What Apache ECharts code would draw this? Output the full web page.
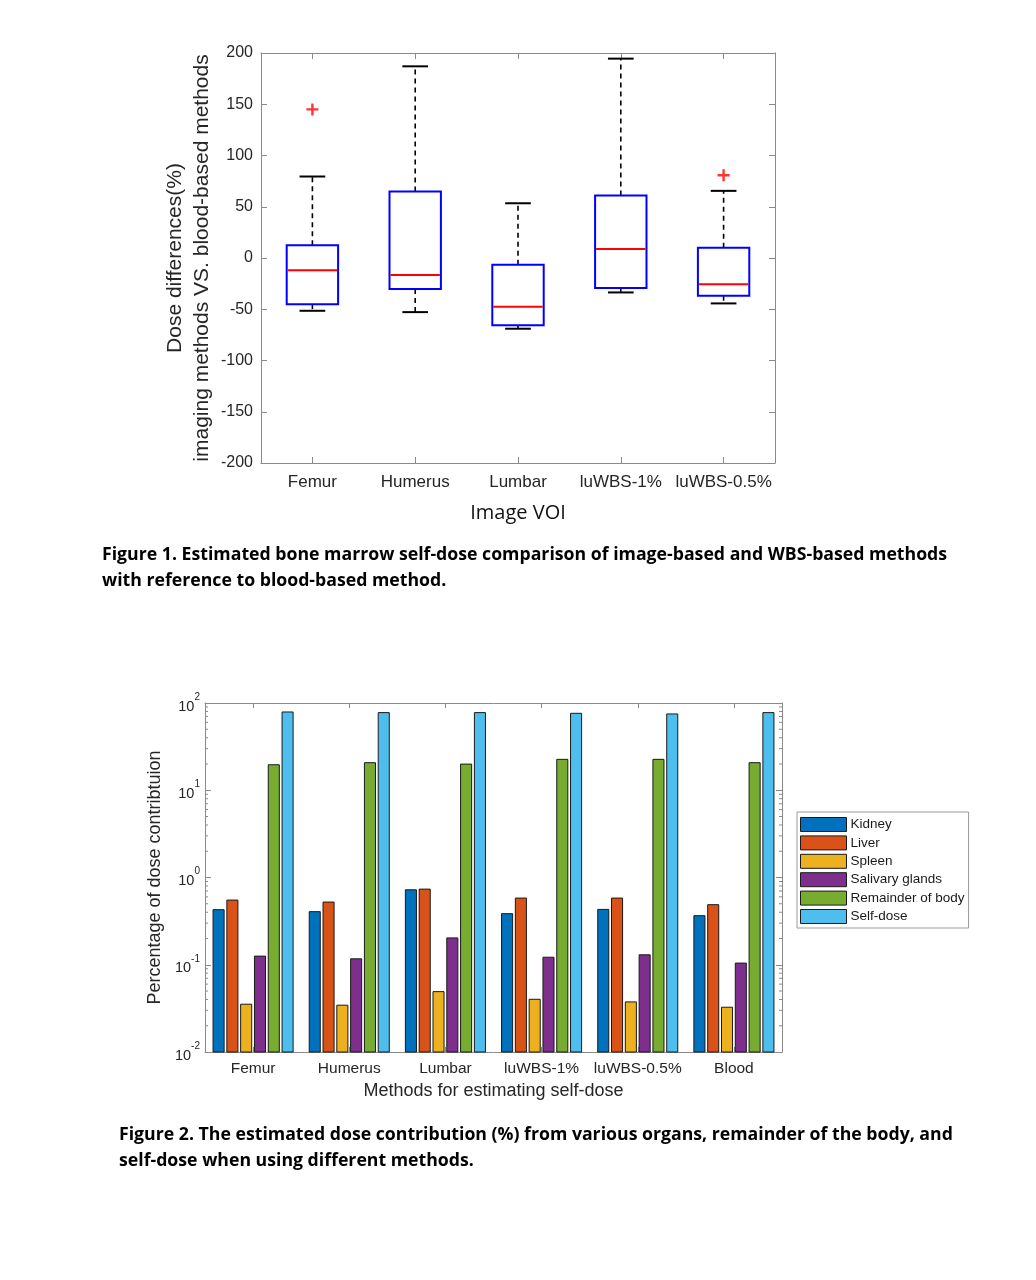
<!DOCTYPE html>
<html>
<head>
<meta charset="utf-8">
<script src="https://cdn.jsdelivr.net/npm/echarts@6/dist/echarts.min.js"></script>
<style>
  html, body { margin: 0; padding: 0; background: #fff; }
  #chart { position: absolute; left: 0; top: 0; width: 1036px; height: 1280px; }
  .cap { position: absolute; font-family: "Open Sans", sans-serif; font-weight: bold; font-size: 17.7px; line-height: 26px; color: #000; white-space: nowrap; }
</style>
</head>
<body>
<div id="chart"></div>
<div class="cap" style="left:102px; top:540px;">Figure 1. Estimated bone marrow self-dose comparison of image-based and WBS-based methods<br>with reference to blood-based method.</div>
<div class="cap" style="left:119px; top:1120px;">Figure 2. The estimated dose contribution (%) from various organs, remainder of the body, and<br>self-dose when using different methods.</div>
<script>
// ---- Figure 1 data (box plot) ----
const boxCategories = ['Femur', 'Humerus', 'Lumbar', 'luWBS-1%', 'luWBS-0.5%'];
const whiskerLow  = [-51.5, -52.8, -69.0, -33.6, -44.3];
const q1          = [-45.0, -30.3, -65.5, -29.3, -36.8];
const median      = [-12.0, -16.6, -47.6,   8.8, -25.7];
const q3          = [ 12.4,  65.0,  -6.5,  61.0,  10.0];
const whiskerHigh = [ 79.5, 187.0,  53.4, 194.5,  65.5];
const outlierCategory = ['Femur', 'luWBS-0.5%'];
const outlierValue    = [145, 80.8];

// ---- Figure 2 data (log bar chart) ----
const methods   = ['Femur', 'Humerus', 'Lumbar', 'luWBS-1%', 'luWBS-0.5%', 'Blood'];
const kidney    = [0.428, 0.406, 0.723, 0.385, 0.431, 0.365];
const liver     = [0.551, 0.523, 0.736, 0.581, 0.581, 0.488];
const spleen    = [0.0353, 0.0344, 0.0492, 0.0402, 0.0375, 0.0326];
const salivary  = [0.1256, 0.117, 0.203, 0.122, 0.130, 0.1045];
const remainder = [19.6, 20.7, 19.95, 22.6, 22.6, 20.7];
const selfDose  = [78.9, 77.6, 77.6, 76.2, 74.9, 77.6];
const organNames = ['Kidney', 'Liver', 'Spleen', 'Salivary glands', 'Remainder of body', 'Self-dose'];
const organColors = ['#0072BD', '#D95319', '#EDB120', '#7E2F8E', '#77AC30', '#4DBEEE'];
const minorTickValues = [0.02,0.03,0.04,0.05,0.06,0.07,0.08,0.09,
                         0.2,0.3,0.4,0.5,0.6,0.7,0.8,0.9,
                         2,3,4,5,6,7,8,9,
                         20,30,40,50,60,70,80,90];

const axisGray = '#8a8a8a';
const textDark = '#262626';
const font = 'Liberation Sans, Arial, sans-serif';

const boxData = boxCategories.map((c, i) => [i, whiskerLow[i], q1[i], median[i], q3[i], whiskerHigh[i]]);
const outlierData = outlierCategory.map((c, i) => [boxCategories.indexOf(c), outlierValue[i]]);
const organSeriesValues = [kidney, liver, spleen, salivary, remainder, selfDose];

function boxRender(params, api) {
  const i = api.value(0);
  const lo = api.coord([i, api.value(1)]);
  const b1 = api.coord([i, api.value(2)]);
  const md = api.coord([i, api.value(3)]);
  const b3 = api.coord([i, api.value(4)]);
  const hi = api.coord([i, api.value(5)]);
  const band = params.coordSys.width / boxCategories.length;
  const bw = band * 0.5, cw = band * 0.25;
  const x = lo[0];
  const dash = { stroke: '#000', lineWidth: 1.6, lineDash: [5, 4] };
  const solid = { stroke: '#000', lineWidth: 2 };
  return { type: 'group', children: [
    { type: 'line', shape: { x1: x, y1: b3[1], x2: x, y2: hi[1] }, style: dash },
    { type: 'line', shape: { x1: x, y1: b1[1], x2: x, y2: lo[1] }, style: dash },
    { type: 'line', shape: { x1: x - cw / 2, y1: hi[1], x2: x + cw / 2, y2: hi[1] }, style: solid },
    { type: 'line', shape: { x1: x - cw / 2, y1: lo[1], x2: x + cw / 2, y2: lo[1] }, style: solid },
    { type: 'rect', shape: { x: x - bw / 2, y: b3[1], width: bw, height: b1[1] - b3[1] }, style: { fill: '#fff', stroke: '#0000ff', lineWidth: 2 } },
    { type: 'line', shape: { x1: x - bw / 2 + 1, y1: md[1], x2: x + bw / 2 - 1, y2: md[1] }, style: { stroke: '#ff0000', lineWidth: 2 } }
  ]};
}

function makeBarRender(k) {
  return function (params, api) {
    const idx = api.value(0);
    const top = api.coord([idx, api.value(1)]);
    const band = params.coordSys.width / methods.length;
    const pitch = band * 0.1435, w = band * 0.115;
    const cx = top[0] + (k - 2.5) * pitch;
    const bottom = params.coordSys.y + params.coordSys.height;
    return { type: 'rect', shape: { x: cx - w / 2, y: top[1], width: w, height: bottom - top[1] },
      style: { fill: organColors[k], stroke: '#1a1a1a', lineWidth: 1 } };
  };
}

function minorRender(params, api) {
  const p = api.coord([0, api.value(0)]);
  const x0 = params.coordSys.x, x1 = x0 + params.coordSys.width;
  const st = { stroke: axisGray, lineWidth: 1 };
  return { type: 'group', children: [
    { type: 'line', shape: { x1: x0, y1: p[1], x2: x0 + 3, y2: p[1] }, style: st },
    { type: 'line', shape: { x1: x1 - 3, y1: p[1], x2: x1, y2: p[1] }, style: st }
  ]};
}

const chart = echarts.init(document.getElementById('chart'), null, { renderer: 'canvas' });

const barSeries = organNames.map((name, k) => ({
  name: name,
  type: 'custom',
  xAxisIndex: 2, yAxisIndex: 2,
  renderItem: makeBarRender(k),
  itemStyle: { color: organColors[k], borderColor: '#1a1a1a', borderWidth: 1 },
  encode: { x: 0, y: 1 },
  data: organSeriesValues[k].map((v, i) => [i, v]),
  z: 3
}));

const axisLineStyle = { show: true, onZero: false, lineStyle: { color: axisGray, width: 1 } };
const catTick = (len) => ({ show: true, inside: true, alignWithLabel: true, interval: 0, length: len, lineStyle: { color: axisGray } });

const option = {
  animation: false,
  textStyle: { fontFamily: font },
  grid: [
    { left: 261, top: 53, width: 514, height: 410, containLabel: false },
    { left: 205, top: 703, width: 577, height: 349, containLabel: false }
  ],
  xAxis: [
    { gridIndex: 0, type: 'category', data: boxCategories, position: 'bottom',
      axisLine: axisLineStyle, axisTick: catTick(6),
      axisLabel: { interval: 0, fontSize: 17, color: textDark, margin: 11, fontFamily: font },
      name: 'Image VOI', nameLocation: 'middle', nameGap: 40,
      nameTextStyle: { fontSize: 20, color: '#111', fontFamily: 'Open Sans, sans-serif' },
      splitLine: { show: false } },
    { gridIndex: 0, type: 'category', data: boxCategories, position: 'top',
      axisLine: axisLineStyle, axisTick: catTick(6),
      axisLabel: { show: false }, splitLine: { show: false } },
    { gridIndex: 1, type: 'category', data: methods, position: 'bottom',
      axisLine: axisLineStyle, axisTick: catTick(5),
      axisLabel: { interval: 0, fontSize: 15.5, color: textDark, margin: 9, fontFamily: font },
      name: 'Methods for estimating self-dose', nameLocation: 'middle', nameGap: 30,
      nameTextStyle: { fontSize: 18, color: textDark, fontFamily: font },
      splitLine: { show: false } },
    { gridIndex: 1, type: 'category', data: methods, position: 'top',
      axisLine: axisLineStyle, axisTick: catTick(5),
      axisLabel: { show: false }, splitLine: { show: false } }
  ],
  yAxis: [
    { gridIndex: 0, type: 'value', min: -200, max: 200, interval: 50, position: 'left',
      axisLine: axisLineStyle,
      axisTick: { show: true, inside: true, length: 6, lineStyle: { color: axisGray } },
      axisLabel: { fontSize: 16, color: textDark, margin: 8, fontFamily: font },
      splitLine: { show: false },
      name: 'Dose differences(%)\nimaging methods VS. blood-based methods',
      nameLocation: 'middle', nameGap: 45, nameRotate: 90,
      nameTextStyle: { fontSize: 21, lineHeight: 27, color: textDark, fontFamily: font, align: 'center' } },
    { gridIndex: 0, type: 'value', min: -200, max: 200, interval: 50, position: 'right',
      axisLine: axisLineStyle,
      axisTick: { show: true, inside: true, length: 6, lineStyle: { color: axisGray } },
      axisLabel: { show: false }, splitLine: { show: false } },
    { gridIndex: 1, type: 'log', logBase: 10, min: 0.01, max: 100, position: 'left',
      axisLine: axisLineStyle,
      axisTick: { show: true, inside: true, length: 6, lineStyle: { color: axisGray } },
      axisLabel: { margin: 5, color: textDark, fontFamily: font,
        formatter: function (v) { const e = Math.round(Math.log10(v)); return '{b|10}{s|' + e + '}'; },
        rich: {
          b: { fontSize: 14.5, color: textDark, fontFamily: font, verticalAlign: 'bottom', lineHeight: 22, padding: [6, 0, 0, 0] },
          s: { fontSize: 10, color: textDark, fontFamily: font, verticalAlign: 'top', lineHeight: 22, padding: [0, 0, 6, 0] }
        } },
      splitLine: { show: false },
      name: 'Percentage of dose contribtuion', nameLocation: 'middle', nameGap: 40, nameRotate: 90,
      nameTextStyle: { fontSize: 18, color: textDark, fontFamily: font } },
    { gridIndex: 1, type: 'log', logBase: 10, min: 0.01, max: 100, position: 'right',
      axisLine: axisLineStyle,
      axisTick: { show: true, inside: true, length: 6, lineStyle: { color: axisGray } },
      axisLabel: { show: false }, splitLine: { show: false } }
  ],
  legend: {
    data: organNames.map((n, k) => ({ name: n, icon: 'rect', itemStyle: { color: organColors[k], borderColor: '#1a1a1a', borderWidth: 1 } })),
    orient: 'vertical', left: 797, top: 812,
    itemWidth: 46, itemHeight: 14, itemGap: 3.4,
    padding: [5, 4, 4, 3],
    borderColor: '#999', borderWidth: 1, backgroundColor: '#fff',
    textStyle: { fontSize: 13.5, lineHeight: 14, color: '#1a1a1a', fontFamily: font, padding: [0, 0, 0, -1] },
    selectedMode: false
  },
  series: [
    { type: 'custom', name: 'box', xAxisIndex: 0, yAxisIndex: 0,
      renderItem: boxRender, encode: { x: 0, y: [1, 2, 3, 4, 5] }, data: boxData, z: 3, silent: true },
    { type: 'scatter', name: 'outliers', xAxisIndex: 0, yAxisIndex: 0,
      symbol: 'path://M4,0H6V4H10V6H6V10H4V6H0V4H4Z', symbolSize: 12,
      itemStyle: { color: '#ff0000' }, data: outlierData, z: 4, silent: true },
    { type: 'custom', name: 'minorTicks', xAxisIndex: 2, yAxisIndex: 2,
      renderItem: minorRender, encode: { y: 0 }, data: minorTickValues.map(v => [v]), z: 2, silent: true }
  ].concat(barSeries)
};

chart.setOption(option);
</script>
</body>
</html>
